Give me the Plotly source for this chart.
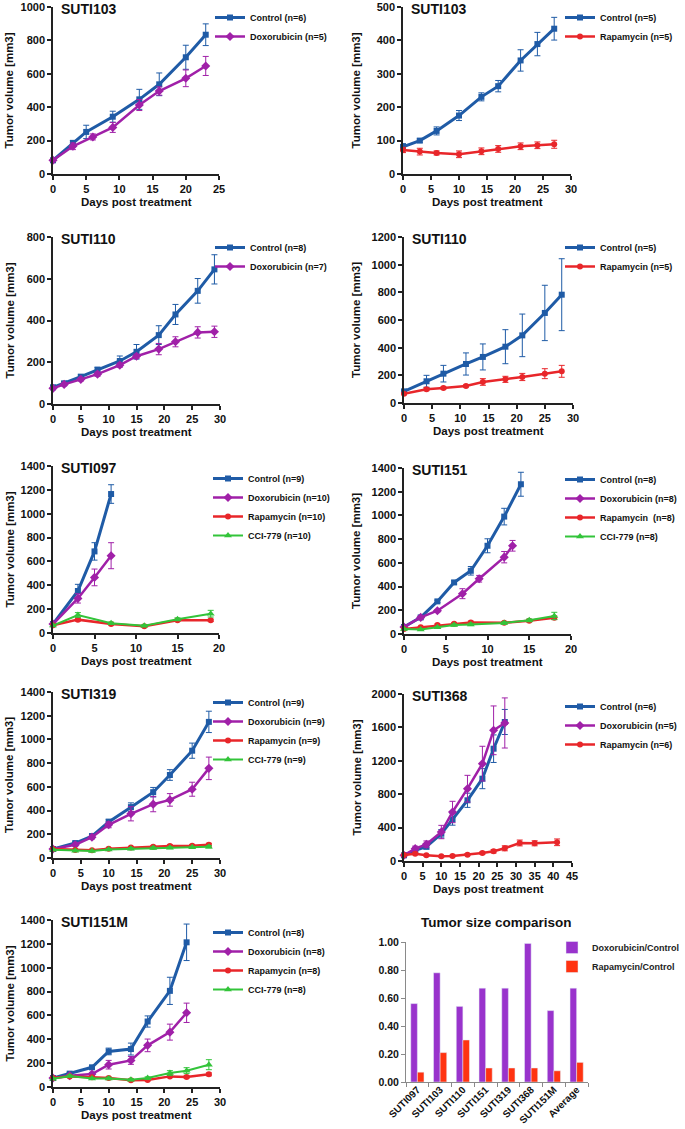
import plotly.graph_objects as go

W, H = 685, 1129

# ---------------- data ----------------
# A: SUTI103 - doxorubicin study
a_ctrl_days = [0, 3, 5, 9, 13, 16, 20, 23]
a_ctrl_vol = [82, 186, 252, 343, 447, 537, 699, 834]
a_ctrl_err = [8, 15, 40, 33, 60, 68, 72, 65]
a_doxo_days = [0, 3, 6, 9, 13, 16, 20, 23]
a_doxo_vol = [82, 166, 222, 279, 413, 497, 573, 647]
a_doxo_err = [8, 20, 18, 30, 33, 25, 50, 57]

# B: SUTI103 - rapamycin study
b_days = [0, 3, 6, 10, 14, 17, 21, 24, 27]
b_ctrl_vol = [81, 100, 129, 175, 231, 263, 340, 389, 435]
b_ctrl_err = [10, 5, 12, 15, 12, 17, 32, 35, 34]
b_rapa_vol = [72, 67, 63, 59, 68, 75, 83, 86, 89]
b_rapa_err = [8, 10, 6, 10, 10, 10, 10, 10, 12]

# C: SUTI110 - doxorubicin study
c_days = [0, 2, 5, 8, 12, 15, 19, 22, 26, 29]
c_ctrl_vol = [80, 99, 131, 164, 206, 250, 330, 429, 542, 645]
c_ctrl_err = [6, 8, 8, 12, 24, 35, 45, 48, 59, 70]
c_doxo_vol = [75, 94, 118, 143, 186, 229, 263, 298, 343, 346]
c_doxo_err = [5, 6, 8, 10, 10, 10, 27, 24, 27, 27]

# D: SUTI110 - rapamycin study
d_days = [0, 4, 7, 11, 14, 18, 21, 25, 28]
d_ctrl_vol = [84, 157, 212, 282, 333, 407, 489, 651, 783]
d_ctrl_err = [10, 43, 60, 80, 94, 123, 154, 200, 260]
d_rapa_vol = [67, 99, 108, 123, 152, 171, 188, 212, 229]
d_rapa_err = [8, 10, 8, 8, 24, 22, 26, 36, 43]

# E: SUTI097
e_short_days = [0, 3, 5, 7]
e_ctrl_vol = [75, 352, 684, 1165]
e_ctrl_err = [10, 56, 73, 78]
e_doxo_vol = [75, 290, 466, 648]
e_doxo_err = [10, 39, 70, 109]
e_long_days = [0, 3, 7, 11, 15, 19]
e_rapa_vol = [64, 112, 75, 56, 106, 106]
e_rapa_err = [8, 12, 8, 8, 10, 10]
e_cci_vol = [62, 151, 81, 61, 115, 162]
e_cci_err = [8, 20, 10, 8, 12, 28]

# F: SUTI151
f_ctrl_days = [0, 2, 4, 6, 8, 10, 12, 14]
f_ctrl_vol = [59, 140, 275, 435, 533, 744, 990, 1263]
f_ctrl_err = [8, 10, 10, 14, 36, 59, 70, 101]
f_doxo_days = [0, 2, 4, 7, 9, 12, 13]
f_doxo_vol = [59, 140, 196, 340, 466, 648, 744]
f_doxo_err = [8, 10, 10, 42, 28, 48, 45]
f_mtor_days = [0, 2, 4, 6, 8, 12, 15, 18]
f_rapa_vol = [42, 56, 76, 87, 98, 95, 112, 137]
f_rapa_err = [6, 8, 8, 8, 10, 10, 10, 15]
f_cci_vol = [42, 39, 56, 76, 81, 93, 115, 152]
f_cci_err = [6, 6, 8, 8, 10, 10, 12, 31]

# G: SUTI319
g_days = [0, 4, 7, 10, 14, 18, 21, 25, 28]
g_ctrl_vol = [76, 126, 185, 303, 429, 555, 700, 905, 1148]
g_ctrl_err = [8, 12, 15, 25, 36, 40, 45, 64, 90]
g_doxo_vol = [76, 112, 176, 280, 373, 454, 490, 580, 756]
g_doxo_err = [8, 12, 15, 25, 60, 64, 53, 59, 95]
g_rapa_vol = [76, 68, 65, 78, 88, 95, 101, 104, 112]
g_rapa_err = [5, 5, 5, 6, 8, 8, 10, 10, 12]
g_cci_vol = [70, 62, 58, 72, 78, 85, 87, 90, 95]
g_cci_err = [5, 5, 5, 6, 8, 8, 8, 8, 10]

# H: SUTI368
h_days = [0, 3, 6, 10, 13, 17, 21, 24, 27]
h_ctrl_vol = [68, 128, 172, 327, 499, 727, 986, 1345, 1665]
h_ctrl_err = [10, 20, 30, 50, 70, 85, 120, 165, 150]
h_doxo_vol = [68, 148, 200, 347, 587, 866, 1166, 1565, 1653]
h_doxo_err = [10, 30, 40, 80, 128, 160, 208, 292, 300]
h_rapa_days = [0, 3, 6, 10, 13, 17, 21, 24, 27, 31, 35, 41]
h_rapa_vol = [72, 88, 68, 56, 60, 76, 96, 116, 152, 216, 212, 224]
h_rapa_err = [10, 12, 10, 10, 10, 12, 15, 20, 30, 35, 30, 40]

# I: SUTI151M
i_short_days = [0, 3, 7, 10, 14, 17, 21, 24]
i_ctrl_vol = [75, 112, 165, 298, 318, 549, 806, 1213]
i_ctrl_err = [8, 10, 12, 28, 50, 47, 114, 153]
i_doxo_vol = [75, 95, 109, 187, 223, 349, 460, 622]
i_doxo_err = [8, 10, 10, 36, 33, 53, 67, 81]
i_long_days = [0, 3, 7, 10, 14, 17, 21, 24, 28]
i_rapa_vol = [75, 89, 81, 75, 56, 59, 89, 84, 106]
i_rapa_err = [6, 8, 8, 8, 8, 8, 10, 10, 12]
i_cci_vol = [70, 92, 72, 72, 61, 75, 117, 137, 187]
i_cci_err = [6, 8, 8, 10, 8, 10, 20, 25, 42]

# J: tumor size comparison
bar_models = ["SUTI097", "SUTI103", "SUTI110", "SUTI151", "SUTI319", "SUTI368", "SUTI151M", "Average"]
doxo_ratio = [0.56, 0.78, 0.54, 0.67, 0.67, 0.99, 0.51, 0.67]
rapa_ratio = [0.07, 0.21, 0.30, 0.10, 0.10, 0.10, 0.08, 0.14]

# ---------------- styles ----------------
FONT = "Liberation Sans, Arial, sans-serif"
STYLE = {
    "ctrl": dict(color="#1F5BA6", symbol="square", size=6, width=3),
    "doxo": dict(color="#A020A8", symbol="diamond", size=7, width=2.5),
    "rapa": dict(color="#E8262A", symbol="circle", size=6, width=2.5),
    "cci": dict(color="#33C43A", symbol="triangle-up", size=7, width=2),
}

# panel boxes in pixels: (left, top, right, bottom); leg = (text start x, first item centre y)
PANELS = [
    dict(title="SUTI103", box=(53, 7, 219, 174), xmax=25, ymax=1000, ydt=200, leg=(250, 17)),
    dict(title="SUTI103", box=(403, 7, 571, 174), xmax=30, ymax=500, ydt=100, leg=(600, 17)),
    dict(title="SUTI110", box=(53, 237, 220, 404), xmax=30, ymax=800, ydt=200, leg=(250, 247)),
    dict(title="SUTI110", box=(404, 237, 573, 403), xmax=30, ymax=1200, ydt=200, leg=(600, 247)),
    dict(title="SUTI097", box=(53, 466, 219, 633), xmax=20, ymax=1400, ydt=200, leg=(248, 478)),
    dict(title="SUTI151", box=(404, 468, 571, 634), xmax=20, ymax=1400, ydt=200, leg=(600, 479)),
    dict(title="SUTI319", box=(53, 692, 220, 858), xmax=30, ymax=1400, ydt=200, leg=(248, 702)),
    dict(title="SUTI368", box=(404, 694, 572, 861), xmax=45, ymax=2000, ydt=400, leg=(600, 706)),
    dict(title="SUTI151M", box=(53, 920, 220, 1087), xmax=30, ymax=1400, ydt=200, leg=(248, 932)),
]

SERIES = [
    [(a_ctrl_days, a_ctrl_vol, a_ctrl_err, "ctrl", "Control (n=6)"),
     (a_doxo_days, a_doxo_vol, a_doxo_err, "doxo", "Doxorubicin (n=5)")],
    [(b_days, b_ctrl_vol, b_ctrl_err, "ctrl", "Control (n=5)"),
     (b_days, b_rapa_vol, b_rapa_err, "rapa", "Rapamycin (n=5)")],
    [(c_days, c_ctrl_vol, c_ctrl_err, "ctrl", "Control (n=8)"),
     (c_days, c_doxo_vol, c_doxo_err, "doxo", "Doxorubicin (n=7)")],
    [(d_days, d_ctrl_vol, d_ctrl_err, "ctrl", "Control (n=5)"),
     (d_days, d_rapa_vol, d_rapa_err, "rapa", "Rapamycin (n=5)")],
    [(e_short_days, e_ctrl_vol, e_ctrl_err, "ctrl", "Control (n=9)"),
     (e_short_days, e_doxo_vol, e_doxo_err, "doxo", "Doxorubicin (n=10)"),
     (e_long_days, e_rapa_vol, e_rapa_err, "rapa", "Rapamycin (n=10)"),
     (e_long_days, e_cci_vol, e_cci_err, "cci", "CCI-779 (n=10)")],
    [(f_ctrl_days, f_ctrl_vol, f_ctrl_err, "ctrl", "Control (n=8)"),
     (f_doxo_days, f_doxo_vol, f_doxo_err, "doxo", "Doxorubicin (n=8)"),
     (f_mtor_days, f_rapa_vol, f_rapa_err, "rapa", "Rapamycin  (n=8)"),
     (f_mtor_days, f_cci_vol, f_cci_err, "cci", "CCI-779 (n=8)")],
    [(g_days, g_ctrl_vol, g_ctrl_err, "ctrl", "Control (n=9)"),
     (g_days, g_doxo_vol, g_doxo_err, "doxo", "Doxorubicin (n=9)"),
     (g_days, g_rapa_vol, g_rapa_err, "rapa", "Rapamycin (n=9)"),
     (g_days, g_cci_vol, g_cci_err, "cci", "CCI-779 (n=9)")],
    [(h_days, h_ctrl_vol, h_ctrl_err, "ctrl", "Control (n=6)"),
     (h_days, h_doxo_vol, h_doxo_err, "doxo", "Doxorubicin (n=5)"),
     (h_rapa_days, h_rapa_vol, h_rapa_err, "rapa", "Rapamycin (n=6)")],
    [(i_short_days, i_ctrl_vol, i_ctrl_err, "ctrl", "Control (n=8)"),
     (i_short_days, i_doxo_vol, i_doxo_err, "doxo", "Doxorubicin (n=8)"),
     (i_long_days, i_rapa_vol, i_rapa_err, "rapa", "Rapamycin (n=8)"),
     (i_long_days, i_cci_vol, i_cci_err, "cci", "CCI-779 (n=8)")],
]

LEG_TEXT_DX = 40   # legend left edge -> text start
LEG_ITEM_DY = 14   # legend top edge -> first item centre


def dx(l, r):
    return [l / W, r / W]


def dy(t, b):
    return [1 - b / H, 1 - t / H]


fig = go.Figure()
layout = dict(
    width=W, height=H, margin=dict(l=0, r=0, t=0, b=0, autoexpand=False),
    paper_bgcolor="white", plot_bgcolor="white",
    font=dict(family=FONT, color="#111"),
    showlegend=True,
)
annotations = []

AXIS_COMMON = dict(
    showgrid=False, zeroline=False, showline=True, linecolor="#222", linewidth=1.5,
    ticks="outside", ticklen=4, tickwidth=1.5, tickcolor="#222", automargin=False,
    tickfont=dict(family=FONT, size=11, weight="bold", color="#111"),
)

for k, (p, series) in enumerate(zip(PANELS, SERIES)):
    i = k + 1
    sfx = "" if i == 1 else str(i)
    l, t, r, b = p["box"]
    leg_name = "legend" + sfx
    layout["xaxis" + sfx] = dict(AXIS_COMMON, domain=dx(l, r), range=[0, p["xmax"]], dtick=5,
                                 anchor="y" + sfx)
    layout["yaxis" + sfx] = dict(AXIS_COMMON, domain=dy(t, b), range=[0, p["ymax"]], dtick=p["ydt"],
                                 anchor="x" + sfx)
    tx, cy = p["leg"]
    layout[leg_name] = dict(x=(tx - LEG_TEXT_DX) / W, y=1 - (cy - LEG_ITEM_DY) / H,
                            xanchor="left", yanchor="top",
                            bgcolor="rgba(0,0,0,0)", borderwidth=0, itemwidth=30,
                            font=dict(family=FONT, size=9, weight="bold", color="#111"),
                            tracegroupgap=0)
    for xs, ys, es, kind, name in series:
        st = STYLE[kind]
        fig.add_trace(go.Scatter(
            x=xs, y=ys, name=name, mode="lines+markers",
            line=dict(color=st["color"], width=st["width"]),
            marker=dict(symbol=st["symbol"], size=st["size"], color=st["color"]),
            error_y=dict(type="data", array=es, color=st["color"], thickness=1, width=3),
            xaxis="x" + sfx, yaxis="y" + sfx, legend=leg_name, cliponaxis=False,
        ))
    # panel title
    annotations.append(dict(text=p["title"], xref="paper", yref="paper",
                            x=(l + 6) / W, y=1 - (t + 2) / H, xanchor="left", yanchor="middle",
                            showarrow=False, font=dict(family=FONT, size=14, weight="bold", color="#111")))
    # y title
    ytx = 9 if l < 300 else 356
    annotations.append(dict(text="Tumor volume [mm3]", xref="paper", yref="paper",
                            x=ytx / W, y=1 - ((t + b) / 2) / H, xanchor="center", yanchor="middle",
                            textangle=-90, showarrow=False,
                            font=dict(family=FONT, size=11.5, weight="bold", color="#111")))
    # x title
    annotations.append(dict(text="Days post treatment", xref="paper", yref="paper",
                            x=((l + r) / 2) / W, y=1 - (b + 28) / H, xanchor="center", yanchor="middle",
                            showarrow=False, font=dict(family=FONT, size=11.5, weight="bold", color="#111")))

# ---------- bar chart ----------
bl, bt, br, bb = 406, 942, 588, 1082
layout["xaxis10"] = dict(domain=dx(bl, br), anchor="y10", showgrid=False, zeroline=False,
                         showline=True, linecolor="#8a8a8a", linewidth=1, ticks="outside",
                         tickson="boundaries", ticklen=4, tickcolor="#8a8a8a", tickangle=-45,
                         automargin=False, ticklabelstandoff=-3,
                         tickfont=dict(family=FONT, size=10, weight="bold", color="#111"))
layout["yaxis10"] = dict(domain=dy(bt, bb), anchor="x10", range=[0, 1.0], dtick=0.2, tickformat=".2f",
                         showgrid=False, zeroline=False, showline=True, linecolor="#8a8a8a", linewidth=1,
                         ticks="outside", ticklen=4, tickcolor="#8a8a8a", automargin=False,
                         tickfont=dict(family=FONT, size=10.5, weight="bold", color="#111"))
layout["legend10"] = dict(x=(592 - LEG_TEXT_DX) / W, y=1 - (947 - LEG_ITEM_DY) / H,
                          xanchor="left", yanchor="top",
                          bgcolor="rgba(0,0,0,0)", itemwidth=30,
                          font=dict(family=FONT, size=9, weight="bold", color="#222"))
fig.add_trace(go.Bar(x=bar_models, y=doxo_ratio, name="Doxorubicin/Control", marker_color="#9933CC",
                     xaxis="x10", yaxis="y10", legend="legend10"))
fig.add_trace(go.Bar(x=bar_models, y=rapa_ratio, name="Rapamycin/Control", marker_color="#FF3311",
                     xaxis="x10", yaxis="y10", legend="legend10"))
layout["barmode"] = "group"
layout["bargap"] = 0.42
layout["bargroupgap"] = 0.0
annotations.append(dict(text="Tumor size comparison", xref="paper", yref="paper",
                        x=496 / W, y=1 - 922 / H, xanchor="center", yanchor="middle", showarrow=False,
                        font=dict(family=FONT, size=13.5, weight="bold", color="#111")))

layout["annotations"] = annotations
fig.update_layout(**layout)
# remove the browser's default 8px page margin so the figure starts at the window corner
fig.write_html("out.html", config={"displayModeBar": False},
               post_script="document.body.style.margin='0px';")
